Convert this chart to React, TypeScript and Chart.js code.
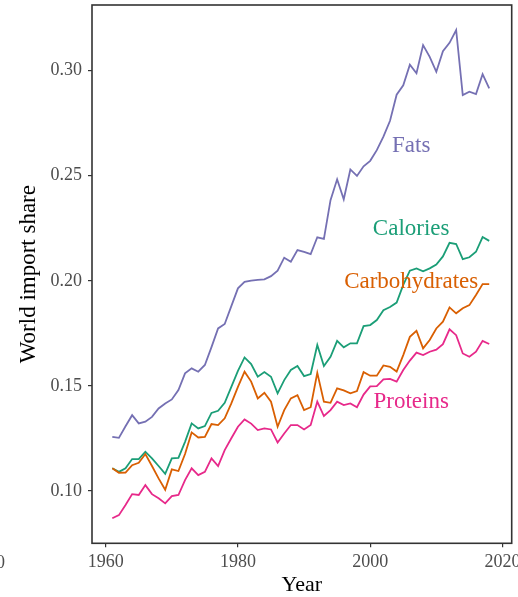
import React, { useEffect, useRef } from "react";
import { Chart, registerables } from "chart.js";

Chart.register(...registerables);

const years = [
  1961, 1962, 1963, 1964, 1965, 1966, 1967, 1968, 1969, 1970,
  1971, 1972, 1973, 1974, 1975, 1976, 1977, 1978, 1979, 1980,
  1981, 1982, 1983, 1984, 1985, 1986, 1987, 1988, 1989, 1990,
  1991, 1992, 1993, 1994, 1995, 1996, 1997, 1998, 1999, 2000,
  2001, 2002, 2003, 2004, 2005, 2006, 2007, 2008, 2009, 2010,
  2011, 2012, 2013, 2014, 2015, 2016, 2017, 2018,
];

const calories = [
  0.1107, 0.109, 0.1107, 0.1151, 0.1151, 0.1186, 0.1154, 0.1118, 0.1081, 0.1154,
  0.1157, 0.1233, 0.1321, 0.1297, 0.1308, 0.1371, 0.1381, 0.1419, 0.1495, 0.1571,
  0.1635, 0.1603, 0.1543, 0.1565, 0.1543, 0.1464, 0.1527, 0.1575, 0.1594, 0.1546,
  0.1556, 0.1694, 0.1594, 0.1638, 0.1714, 0.1683, 0.1702, 0.1702, 0.1784, 0.1789,
  0.1813, 0.186, 0.1875, 0.1896, 0.198, 0.2048, 0.2059, 0.2045, 0.2059, 0.2077,
  0.2116, 0.2181, 0.2175, 0.2103, 0.2112, 0.2138, 0.2208, 0.219,
];

const carbohydrates = [
  0.1107, 0.1086, 0.1087, 0.1122, 0.1133, 0.1175, 0.1118, 0.1059, 0.1005, 0.1102,
  0.1094, 0.1175, 0.1278, 0.1254, 0.1257, 0.1318, 0.1313, 0.1345, 0.1416, 0.1495,
  0.1567, 0.152, 0.144, 0.1467, 0.1424, 0.1305, 0.1384, 0.144, 0.1455, 0.1384,
  0.1398, 0.1562, 0.1424, 0.1419, 0.1488, 0.1478, 0.1464, 0.1475, 0.1565, 0.1548,
  0.1548, 0.1597, 0.159, 0.1568, 0.1646, 0.1733, 0.1762, 0.1678, 0.1718, 0.1773,
  0.1805, 0.1873, 0.1845, 0.1869, 0.1884, 0.1932, 0.1984, 0.1984,
];

const fats = [
  0.1257, 0.1252, 0.1307, 0.136, 0.1321, 0.1329, 0.1352, 0.1392, 0.1416, 0.1435,
  0.148, 0.1559, 0.1583, 0.1567, 0.1599, 0.1684, 0.1773, 0.1794, 0.1879, 0.1964,
  0.1995, 0.2001, 0.2004, 0.2007, 0.2022, 0.2048, 0.211, 0.2091, 0.2146, 0.2138,
  0.2127, 0.2207, 0.2199, 0.2384, 0.2483, 0.2388, 0.253, 0.2499, 0.2545, 0.2571,
  0.2622, 0.2686, 0.2762, 0.2886, 0.2931, 0.3029, 0.2988, 0.3122, 0.3066, 0.2995,
  0.3093, 0.3133, 0.3194, 0.2884, 0.29, 0.2889, 0.2984, 0.2916,
];

const proteins = [
  0.0869, 0.0884, 0.0932, 0.0984, 0.098, 0.1027, 0.0984, 0.0964, 0.094, 0.0975,
  0.098, 0.1051, 0.1107, 0.1075, 0.109, 0.1154, 0.1118, 0.1194, 0.125, 0.1305,
  0.134, 0.132, 0.1289, 0.1297, 0.1292, 0.123, 0.1273, 0.1313, 0.1313, 0.1292,
  0.1313, 0.1425, 0.1356, 0.1384, 0.1424, 0.1408, 0.1416, 0.1398, 0.1458, 0.1497,
  0.1498, 0.153, 0.1533, 0.152, 0.1575, 0.162, 0.1658, 0.1646, 0.1662, 0.1672,
  0.1698, 0.1769, 0.1741, 0.1654, 0.1638, 0.1662, 0.1714, 0.1699,
];

const seriesNames = ["Calories", "Carbohydrates", "Fats", "Proteins"];
const seriesColors = ["#1B9E77", "#D95F02", "#7570B3", "#E7298A"];
const seriesValues = [calories, carbohydrates, fats, proteins];
const labelYears = [2006.2, 2006.2, 2006.2, 2006.2];
const labelValues = [0.2217, 0.1964, 0.2613, 0.1392];

const xTicks = [1960, 1980, 2000, 2020];
const yTicks = [0.1, 0.15, 0.2, 0.25, 0.3];

const SERIF = "'Liberation Serif', 'Times New Roman', serif";

const overlayPlugin = {
  id: "overlay",
  afterDatasetsDraw(chart: any) {
    const { ctx, chartArea, scales } = chart;
    ctx.save();
    // direct labels
    ctx.font = `23px ${SERIF}`;
    ctx.textAlign = "center";
    ctx.textBaseline = "alphabetic";
    seriesNames.forEach((name, i) => {
      ctx.fillStyle = seriesColors[i];
      ctx.fillText(
        name,
        scales.x.getPixelForValue(labelYears[i]),
        scales.y.getPixelForValue(labelValues[i])
      );
    });
    // panel border
    ctx.strokeStyle = "#333333";
    ctx.lineWidth = 1.6;
    ctx.strokeRect(
      chartArea.left,
      chartArea.top,
      chartArea.right - chartArea.left,
      chartArea.bottom - chartArea.top
    );
    // clipped label of neighbouring panel at the far left
    ctx.font = `18px ${SERIF}`;
    ctx.fillStyle = "#4d4d4d";
    ctx.textAlign = "right";
    ctx.fillText("2020", 5, 568.3);
    ctx.restore();
  },
};

export default function App() {
  const canvasRef = useRef<HTMLCanvasElement | null>(null);

  useEffect(() => {
    if (!canvasRef.current) return;
    const datasets = seriesNames.map((name, i) => ({
      label: name,
      data: years.map((yr, j) => ({ x: yr, y: seriesValues[i][j] })),
      borderColor: seriesColors[i],
      backgroundColor: seriesColors[i],
      borderWidth: 1.8,
      pointRadius: 0,
      tension: 0,
      fill: false,
      order: seriesNames.length - i,
    }));

    const zeroPad = (s: any) => {
      s.paddingLeft = 0;
      s.paddingRight = 0;
      s.paddingTop = 0;
      s.paddingBottom = 0;
    };

    const chart = new Chart(canvasRef.current, {
      type: "line",
      data: { datasets },
      options: {
        animation: false,
        responsive: false,
        maintainAspectRatio: false,
        layout: { padding: { left: 0, right: 6.3, top: 5, bottom: 0 } },
        plugins: {
          legend: { display: false },
          tooltip: { enabled: false },
          title: { display: false },
        },
        scales: {
          x: {
            type: "linear",
            min: 1957.93,
            max: 2021.4,
            afterBuildTicks: (s: any) => {
              s.ticks = xTicks.map((v) => ({ value: v }));
            },
            afterFit: (s: any) => {
              s.height = 53.7;
              zeroPad(s);
            },
            ticks: {
              autoSkip: false,
              maxRotation: 0,
              padding: 4,
              color: "#4d4d4d",
              font: { family: SERIF, size: 18 },
              callback: (v: any) => String(v),
            },
            grid: {
              display: true,
              drawOnChartArea: false,
              drawTicks: true,
              tickLength: 4,
              color: "#333333",
              lineWidth: 1.2,
            },
            border: { display: false },
            title: {
              display: true,
              text: "Year",
              color: "#000000",
              font: { family: SERIF, size: 22, lineHeight: 1 },
              padding: { top: 0, bottom: 0.7 },
            },
          },
          y: {
            type: "linear",
            min: 0.075,
            max: 0.3313,
            afterBuildTicks: (s: any) => {
              s.ticks = yTicks.map((v) => ({ value: v }));
            },
            afterFit: (s: any) => {
              s.width = 92;
              zeroPad(s);
            },
            ticks: {
              autoSkip: false,
              padding: 6,
              color: "#4d4d4d",
              font: { family: SERIF, size: 18 },
              callback: (v: any) => Number(v).toFixed(2),
            },
            grid: {
              display: true,
              drawOnChartArea: false,
              drawTicks: true,
              tickLength: 4,
              color: "#333333",
              lineWidth: 1.2,
            },
            border: { display: false },
            title: {
              display: true,
              text: "World import share",
              color: "#000000",
              font: { family: SERIF, size: 23, lineHeight: 1 },
              padding: { top: 17, bottom: 0 },
            },
          },
        },
      },
      plugins: [overlayPlugin],
    });

    return () => chart.destroy();
  }, []);

  return (
    <div
      style={{
        position: "fixed",
        left: 0,
        top: 0,
        width: 518,
        height: 597,
        background: "#ffffff",
      }}
    >
      <canvas
        ref={canvasRef}
        width={518}
        height={597}
        style={{ display: "block", width: 518, height: 597 }}
      />
    </div>
  );
}
